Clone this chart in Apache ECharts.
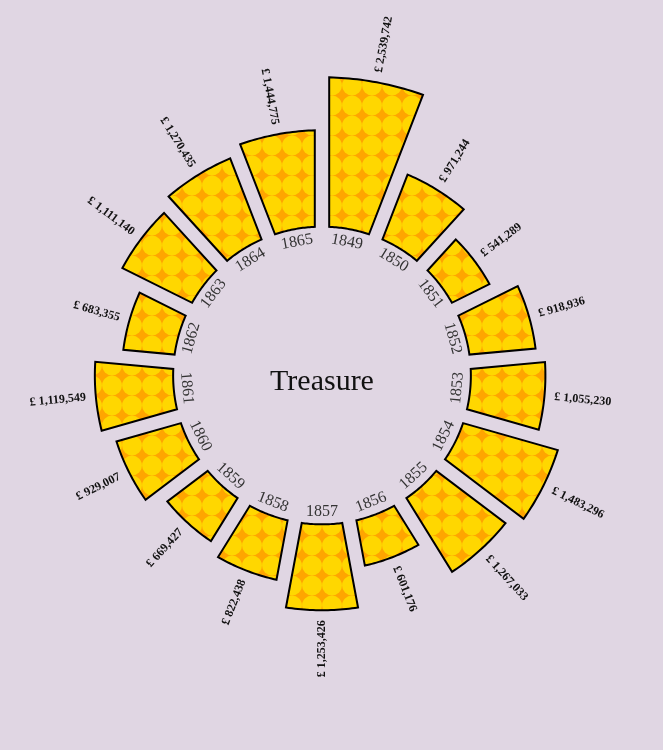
<!DOCTYPE html>
<html>
<head>
<meta charset="utf-8">
<script src="https://cdn.jsdelivr.net/npm/echarts@6/dist/echarts.min.js"></script>
<style>
  html, body { margin: 0; padding: 0; background: #e0d6e3; }
  #chart { width: 663px; height: 750px; }
</style>
</head>
<body>
<div id="chart"></div>
<script>
// ---- data ----
const years = ['1849','1850','1851','1852','1853','1854','1855','1856','1857','1858','1859','1860','1861','1862','1863','1864','1865'];
const treasure = [2539742, 971244, 541289, 918936, 1055230, 1483296, 1267033, 601176, 1253426, 822438, 669427, 929007, 1119549, 683355, 1111140, 1270435, 1444775];
const centerTitle = 'Treasure';

// area-proportional radial scale: the hole counts as HOLE pounds of area
const HOLE = 842800;
const AXIS_TOP = 2580000;
const sq = v => Math.sqrt(HOLE + v);

const N = years.length;
const GAP = 7.2; // half gap in px between neighbouring bars

// pattern: gold circles on orange
function makePattern() {
  const c = document.createElement('canvas');
  c.width = 20; c.height = 20;
  const ctx = c.getContext('2d');
  ctx.fillStyle = '#ffa500';
  ctx.fillRect(0, 0, 20, 20);
  ctx.fillStyle = '#ffd700';
  for (let dx = -20; dx <= 20; dx += 20) {
    for (let dy = -20; dy <= 20; dy += 20) {
      ctx.beginPath();
      ctx.arc(12 + dx, 5.5 + dy, 9.9, 0, Math.PI * 2);
      ctx.fill();
    }
  }
  return c;
}
const patternCanvas = makePattern();

const fmt = v => '£ ' + v.toLocaleString('en-US');

const chart = echarts.init(document.getElementById('chart'));

function renderItem(params, api) {
  const idx = api.value(1);
  const u = api.value(0);
  const raw = api.value(2);
  const c = api.coord([0, idx]);
  const pOut = api.coord([u, idx]);
  const pIn = api.coord([Math.sqrt(HOLE), idx]);
  const rOut = Math.hypot(pOut[0] - c[0], pOut[1] - c[1]);
  const rIn = Math.hypot(pIn[0] - c[0], pIn[1] - c[1]);
  const phi = Math.atan2(pOut[1] - c[1], pOut[0] - c[0]);
  const half = Math.PI / N;
  const pts = [];
  const steps = 24;
  const o1 = phi - half + Math.asin(GAP / rOut), o2 = phi + half - Math.asin(GAP / rOut);
  for (let i = 0; i <= steps; i++) {
    const a = o1 + (o2 - o1) * i / steps;
    pts.push([c[0] + rOut * Math.cos(a), c[1] + rOut * Math.sin(a)]);
  }
  const i1 = phi - half + Math.asin(GAP / rIn), i2 = phi + half - Math.asin(GAP / rIn);
  for (let i = 0; i <= steps; i++) {
    const a = i2 + (i1 - i2) * i / steps;
    pts.push([c[0] + rIn * Math.cos(a), c[1] + rIn * Math.sin(a)]);
  }
  // clockwise angle from top
  let theta = phi + Math.PI / 2;
  while (theta < 0) theta += 2 * Math.PI;
  while (theta >= 2 * Math.PI) theta -= 2 * Math.PI;
  const eps = 1e-6;
  const rightHalf = theta < Math.PI - eps;
  // value label
  const rv = rOut + 10;
  const vx = c[0] + rv * Math.cos(phi), vy = c[1] + rv * Math.sin(phi);
  const vRot = rightHalf ? (Math.PI / 2 - theta) : (3 * Math.PI / 2 - theta);
  // year label
  const ry = rIn - 13;
  const yx = c[0] + ry * Math.cos(phi), yy = c[1] + ry * Math.sin(phi);
  let yRot = -theta;
  if (theta > Math.PI / 2 - eps && theta < 3 * Math.PI / 2 - eps) yRot = Math.PI - theta;
  return {
    type: 'group',
    children: [
      {
        type: 'polygon',
        shape: { points: pts },
        style: {
          fill: { type: 'pattern', image: patternCanvas, repeat: 'repeat' },
          stroke: '#000',
          lineWidth: 2,
          lineJoin: 'miter'
        }
      },
      {
        type: 'text',
        x: vx, y: vy, rotation: vRot,
        style: {
          text: fmt(raw),
          font: 'bold 12px "Liberation Serif", serif',
          fill: '#111',
          align: rightHalf ? 'left' : 'right',
          verticalAlign: 'middle'
        }
      },
      {
        type: 'text',
        x: yx, y: yy, rotation: yRot,
        style: {
          text: years[idx],
          font: '16px "Liberation Serif", serif',
          fill: '#333',
          align: 'center',
          verticalAlign: 'middle'
        }
      }
    ]
  };
}

chart.setOption({
  backgroundColor: '#e0d6e3',
  animation: false,
  polar: { center: [322, 375.5], radius: 300 },
  angleAxis: {
    type: 'category', data: years, startAngle: 90, clockwise: true,
    axisLine: { show: false }, axisTick: { show: false }, axisLabel: { show: false }, splitLine: { show: false }
  },
  radiusAxis: {
    type: 'value', min: 0, max: sq(AXIS_TOP),
    axisLine: { show: false }, axisTick: { show: false }, axisLabel: { show: false }, splitLine: { show: false }
  },
  graphic: [{
    type: 'text', x: 322, y: 382,
    style: { text: centerTitle, font: '30px "Liberation Serif", serif', fill: '#111', align: 'center', verticalAlign: 'middle' }
  }],
  series: [{
    type: 'custom',
    coordinateSystem: 'polar',
    clip: false,
    renderItem: renderItem,
    encode: { radius: 0, angle: 1 },
    data: treasure.map((v, i) => [sq(v), i, v])
  }]
});
</script>
</body>
</html>
